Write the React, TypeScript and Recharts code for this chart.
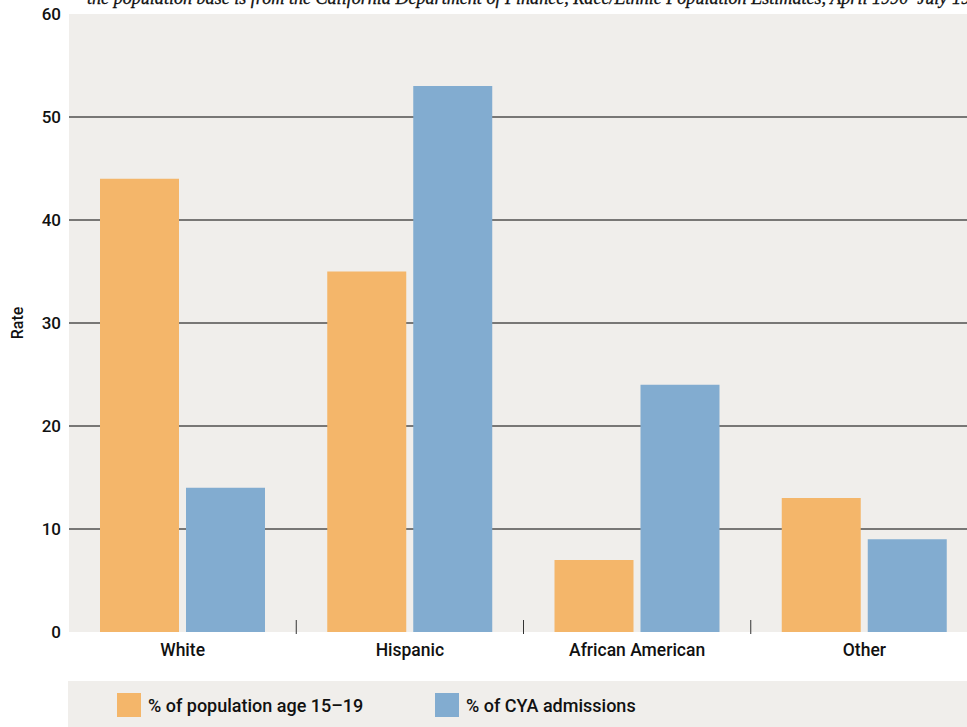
import { BarChart, Bar, XAxis, YAxis, CartesianGrid, Label } from "recharts";

const categories = ["White", "Hispanic", "African American", "Other"];
const populationShare = [44, 35, 7, 13];
const cyaShare = [14, 53, 24, 9];
const yTicks = [0, 10, 20, 30, 40, 50, 60];
const gridValues = [10, 20, 30, 40, 50];

const seriesList = [
  { key: "population", name: "% of population age 15–19", color: "#f4b66a" },
  { key: "cya", name: "% of CYA admissions", color: "#82acd0" },
];

const data = categories.map((c, i) => ({
  category: c,
  population: populationShare[i],
  cya: cyaShare[i],
}));

const FONT = "Roboto, 'Open Sans', sans-serif";
const BG = "#f0eeeb";

function CategoryTick(props: any) {
  const { x, y, payload, index } = props;
  const half = payload?.offset ?? 0;
  return (
    <g>
      {index < categories.length - 1 && (
        <line x1={x + half} x2={x + half} y1={y - 14} y2={y} stroke="#333" strokeWidth={1} />
      )}
      <text x={x} y={y + 22} textAnchor="middle" fontSize={17.5} fontWeight={500} fill="#111" fontFamily={FONT}>
        {payload.value}
      </text>
    </g>
  );
}

export default function App() {
  return (
    <div style={{ position: "absolute", left: 0, top: 0, width: 967, height: 727, overflow: "hidden", background: "#fff" }}>
      <div
        style={{
          position: "absolute",
          left: 87,
          top: -12,
          whiteSpace: "nowrap",
          fontFamily: "'Liberation Serif', serif",
          fontStyle: "italic",
          fontWeight: 400,
          fontSize: 18.1,
          color: "#111",
          WebkitTextStroke: "0.3px #111",
        }}
      >
        the population base is from the California Department of Finance, Race/Ethnic Population Estimates, April 1990–July 1997
      </div>
      <BarChart
        width={990}
        height={680}
        data={data}
        margin={{ top: 14, right: 12, left: 0, bottom: 0 }}
        barCategoryGap={31}
        barGap={7}
      >
        <CartesianGrid
          horizontalValues={gridValues}
          vertical={false}
          fill={BG}
          stroke="#000"
          strokeWidth={1}
          strokeOpacity={1}
        />
        <XAxis
          dataKey="category"
          tickLine={false}
          axisLine={false}
          tickSize={0}
          height={48}
          interval={0}
          tick={<CategoryTick />}
        />
        <YAxis
          domain={[0, 60]}
          ticks={yTicks}
          tickLine={false}
          axisLine={false}
          width={69}
          tickSize={0}
          tickMargin={8}
          tick={{ fontSize: 17, fontWeight: 500, fill: "#111", fontFamily: FONT }}
        >
          <Label
            value="Rate"
            angle={-90}
            position="insideLeft"
            offset={17}
            style={{ fontSize: 16, fontWeight: 500, fill: "#111", fontFamily: FONT, textAnchor: "middle" }}
          />
        </YAxis>
        {seriesList.map((s) => (
          <Bar key={s.key} dataKey={s.key} name={s.name} fill={s.color} isAnimationActive={false} />
        ))}
      </BarChart>
      <div
        style={{
          position: "absolute",
          left: 68,
          top: 681,
          width: 899,
          height: 46,
          background: BG,
          fontFamily: FONT,
          fontSize: 18,
          fontWeight: 500,
          color: "#111",
        }}
      >
        {seriesList.map((s, i) => (
          <div key={s.key} style={{ position: "absolute", left: i === 0 ? 49 : 367, top: 12, display: "flex", alignItems: "center" }}>
            <span style={{ display: "inline-block", width: 24, height: 24, background: s.color, marginRight: 7 }} />
            <span>{s.name}</span>
          </div>
        ))}
      </div>
    </div>
  );
}
